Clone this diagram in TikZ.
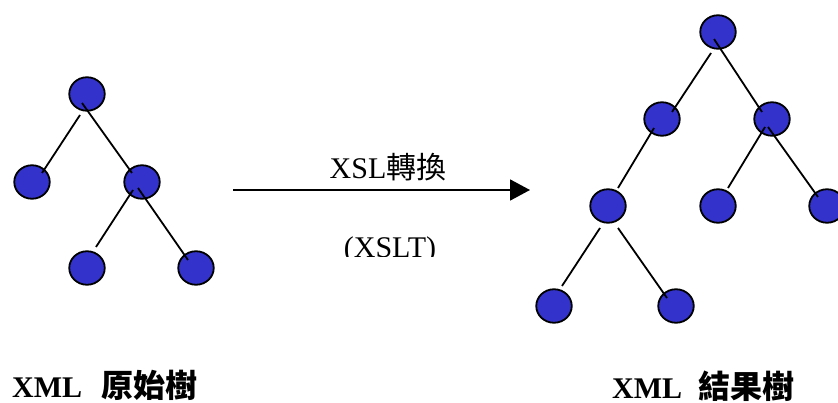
\documentclass[tikz,border=0pt]{standalone}
\usepackage{fontspec}
\setmainfont{Liberation Serif}
\newfontfamily\cjk{Noto Sans CJK TC}
\usetikzlibrary{shapes.geometric,arrows.meta,calc}
\definecolor{nodeblue}{RGB}{51,51,204}
\newcommand{\bigcjk}{\fontsize{32}{36}\selectfont\cjk}
\begin{document}
\begin{tikzpicture}[x=1pt,y=-1pt,
  treenode/.style={ellipse,draw=black,fill=nodeblue,line width=1.8pt,minimum width=35.5pt,minimum height=33.5pt,inner sep=0pt},
  edge/.style={draw=black,line width=1.8pt},
  lbl/.style={font=\fontsize{30}{36}\selectfont,inner sep=0pt},
  blbl/.style={font=\fontsize{30}{36}\selectfont\bfseries,inner sep=0pt}]
\useasboundingbox (0,0) rectangle (838,403);
\clip (0,0) rectangle (838,403);
% left tree
\node[treenode] (r) at (87,94) {};
\node[treenode] (a1) at (32,182) {};
\node[treenode] (a2) at (142,182) {};
\node[treenode] (a3) at (87,268) {};
\node[treenode] (a4) at (196,268) {};
\draw[edge] ($(r)+(-7,21)$) -- ($(a1)+(10,-9)$);
\draw[edge] ($(r)+(-5,9)$) -- ($(a2)+(-10,-9)$);
\draw[edge] ($(a2)+(-9,8)$) -- ($(a3)+(9,-21)$);
\draw[edge] ($(a2)+(-4,6)$) -- ($(a4)+(-8,-8)$);
% right tree
\node[treenode] (b) at (718,32) {};
\node[treenode] (b1) at (662,119) {};
\node[treenode] (b2) at (772,119) {};
\node[treenode] (b3) at (608,206) {};
\node[treenode] (b4) at (718,206) {};
\node[treenode] (b5) at (827,206) {};
\node[treenode] (b6) at (554,306) {};
\node[treenode] (b7) at (676,306) {};
\draw[edge] ($(b)+(-7,21)$) -- ($(b1)+(10,-7)$);
\draw[edge] ($(b)+(-4,7)$) -- ($(b2)+(-10,-7)$);
\draw[edge] ($(b1)+(-8,9)$) -- ($(b3)+(10,-18)$);
\draw[edge] ($(b2)+(-7,8)$) -- ($(b4)+(10,-18)$);
\draw[edge] ($(b2)+(-4,8)$) -- ($(b5)+(-9,-9)$);
\draw[edge] ($(b3)+(-8,22)$) -- ($(b6)+(8,-20)$);
\draw[edge] ($(b3)+(10,22)$) -- ($(b7)+(-9,-8)$);
% arrow
\coordinate (s) at (233,190);
\coordinate (e) at (530,190);
\draw[line width=1.8pt,-{Triangle[length=20pt,width=21pt]}] (s) -- (e);
\node[lbl,anchor=base] (t1) at (388,179) {XSL{\cjk 轉換}};
\begin{scope}
\clip (300,220) rectangle (480,257);
\node[lbl,anchor=base] (t2) at (390,258) {(XSLT)};
\end{scope}
% labels
\node[blbl,anchor=base west] (l1) at (12,397) {XML\hspace{19pt}{\bigcjk 原始樹}};
\node[blbl,anchor=base west] (l2) at (612,398) {XML\hspace{16pt}{\bigcjk 結果樹}};
\end{tikzpicture}
\end{document}
